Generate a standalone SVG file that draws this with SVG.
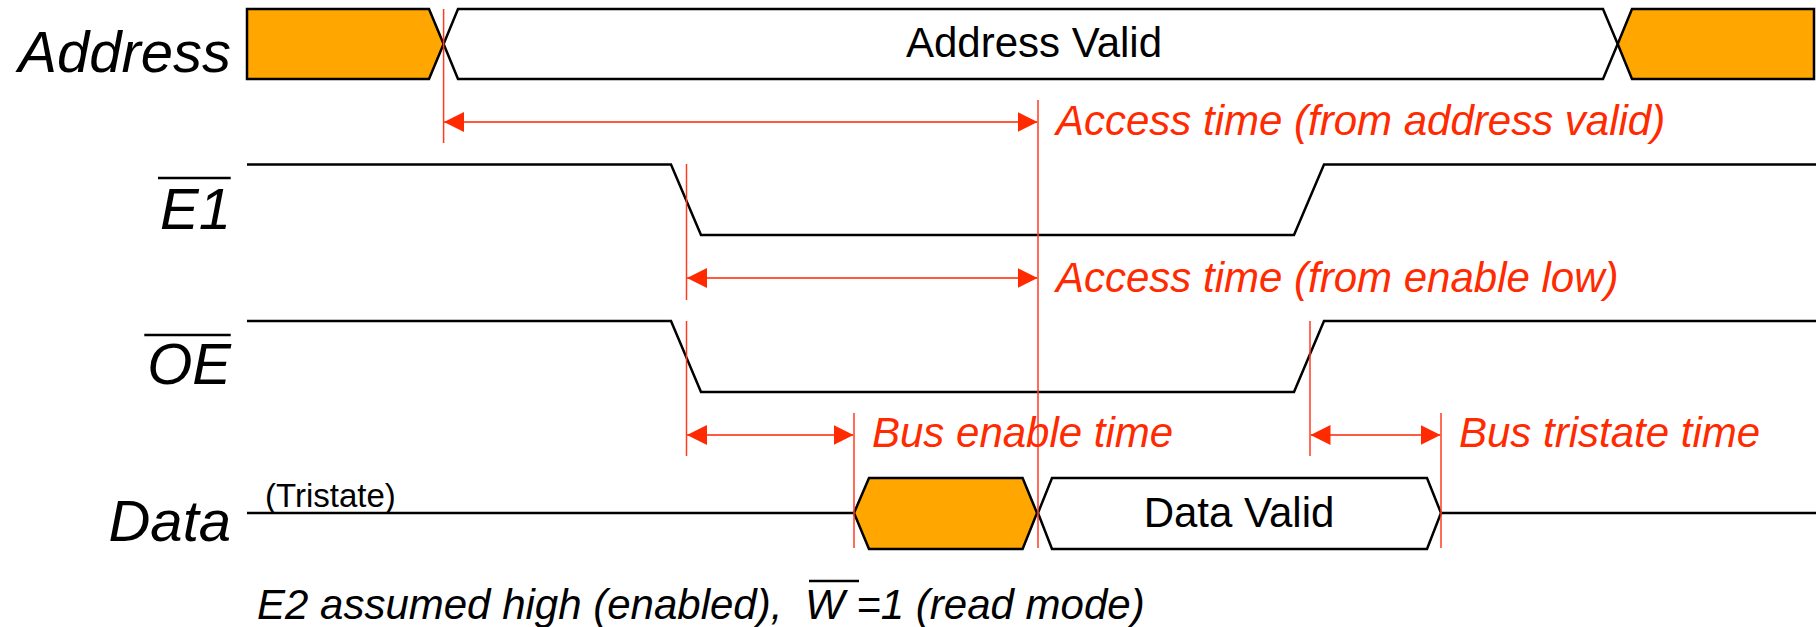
<svg xmlns="http://www.w3.org/2000/svg" width="1816" height="627" viewBox="0 0 1816 627">
<defs>
<style>
.sig{fill:none;stroke:#000;stroke-width:2.5;stroke-linejoin:miter}
.bus{stroke:#000;stroke-width:2.5;stroke-linejoin:miter}
.org{fill:#ffa600}
.wht{fill:#fff}
.lbl{font-family:"Liberation Sans",Arial,sans-serif;font-style:italic;font-size:58px;fill:#000}
.txt{font-family:"Liberation Sans",Arial,sans-serif;font-size:42px;fill:#000}
.rtxt{font-family:"Liberation Sans",Arial,sans-serif;font-style:italic;font-size:42px;fill:#ff2a00}
.vl{stroke:#ff3b1f;stroke-width:1.5;fill:none}
.ar{stroke:#ff5a3f;stroke-width:2;fill:none;marker-start:url(#ah);marker-end:url(#ah)}
.ovl{stroke:#000;stroke-width:2.5}
</style>
<marker id="ah" markerUnits="userSpaceOnUse" markerWidth="20" markerHeight="20" refX="20" refY="10" orient="auto-start-reverse">
<path d="M0,0 L20,10 L0,20 z" fill="#ff2a00"/>
</marker>
</defs>
<rect width="1816" height="627" fill="#fff"/>

<g id="address">
<text class="lbl" x="231" y="72" text-anchor="end">Address</text>
<polygon class="bus org" points="247,9 429,9 443.6,44 429,79 247,79"/>
<polygon class="bus wht" points="458,9 1603,9 1617.7,44 1603,79 458,79 443.6,44"/>
<polygon class="bus org" points="1632,9 1814,9 1814,79 1632,79 1617.7,44"/>
<text class="txt" x="1034" y="57" text-anchor="middle">Address Valid</text>
</g>

<g id="e1">
<text class="lbl" x="231" y="229" text-anchor="end">E1</text>
<line class="ovl" x1="158" y1="178" x2="230.7" y2="178"/>
<polyline class="sig" points="247,164.5 671,164.5 701,235 1294,235 1324,164.5 1816,164.5"/>
</g>

<g id="oe">
<text class="lbl" x="231" y="384" text-anchor="end">OE</text>
<line class="ovl" x1="144.3" y1="335" x2="230.7" y2="335"/>
<polyline class="sig" points="247,321 671,321 701,392 1294,392 1324,321 1816,321"/>
</g>

<g id="data">
<text class="lbl" x="231" y="541" text-anchor="end">Data</text>
<text class="txt" x="265" y="507" style="font-size:33px">(Tristate)</text>
<line class="sig" x1="247" y1="513" x2="854" y2="513"/>
<polygon class="bus org" points="854,513 869,478 1022.6,478 1037,513 1022.6,549 869,549"/>
<polygon class="bus wht" points="1038,513 1052,478 1427,478 1441,513 1427,549 1052,549"/>
<line class="sig" x1="1441" y1="513" x2="1816" y2="513"/>
<text class="txt" x="1239" y="527" text-anchor="middle">Data Valid</text>
</g>

<g id="connectors">
<line class="vl" x1="443.6" y1="9" x2="443.6" y2="143"/>
<line class="vl" x1="1038" y1="100" x2="1038" y2="548"/>
<line class="vl" x1="686.5" y1="164" x2="686.5" y2="300"/>
<line class="vl" x1="686.5" y1="321" x2="686.5" y2="456"/>
<line class="vl" x1="1310" y1="321" x2="1310" y2="456"/>
<line class="vl" x1="854" y1="413" x2="854" y2="548"/>
<line class="vl" x1="1441" y1="413" x2="1441" y2="548"/>
<line class="ar" x1="444" y1="122" x2="1037.5" y2="122"/>
<line class="ar" x1="687" y1="278" x2="1037.5" y2="278"/>
<line class="ar" x1="687" y1="435" x2="853.5" y2="435"/>
<line class="ar" x1="1310.5" y1="435" x2="1440.5" y2="435"/>
</g>

<g id="annotations">
<text class="rtxt" x="1056" y="135">Access time (from address valid)</text>
<text class="rtxt" x="1056" y="292">Access time (from enable low)</text>
<text class="rtxt" x="872" y="447">Bus enable time</text>
<text class="rtxt" x="1459" y="447">Bus tristate time</text>
</g>

<g id="note">
<text class="lbl" style="font-size:42px" y="619"><tspan x="257">E2 assumed high (enabled), </tspan><tspan x="805">W =1 (read mode)</tspan></text>
<line class="ovl" x1="809" y1="581" x2="859" y2="581"/>
</g>
</svg>
